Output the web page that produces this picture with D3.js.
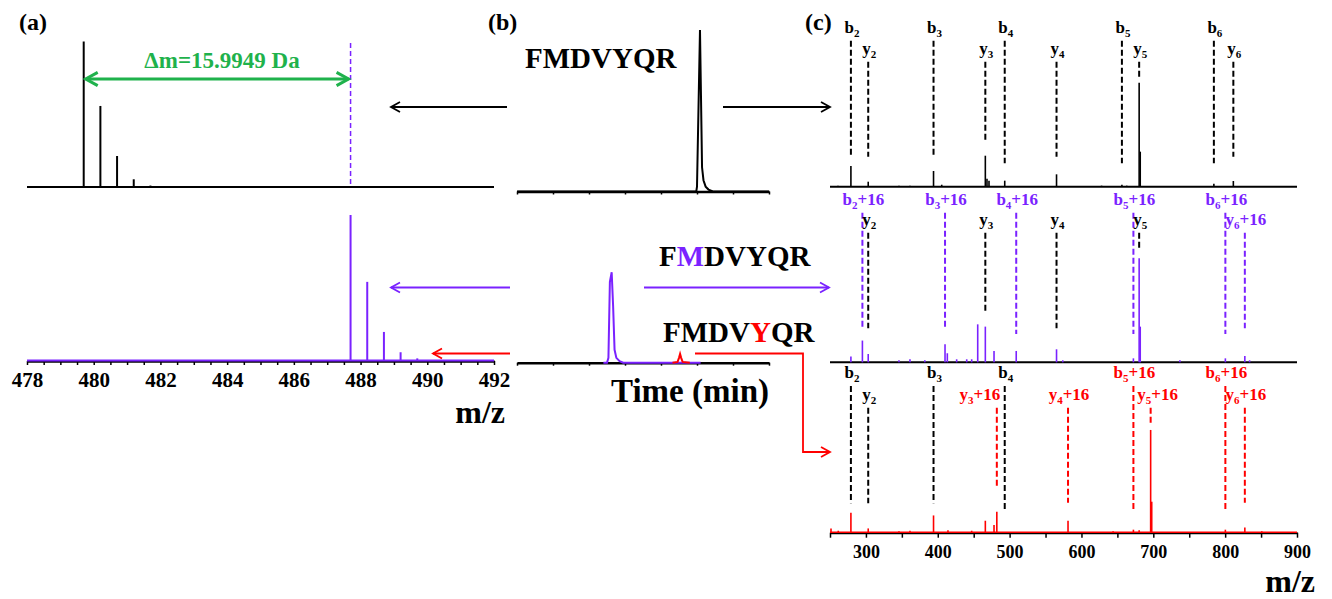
<!DOCTYPE html>
<html lang="en">
<head>
<meta charset="UTF-8">
<title>FMDVYQR oxidation</title>
<script src="https://d3js.org/d3.v7.min.js"></script>
<style>
  html, body { margin: 0; padding: 0; background: #fff; overflow: hidden; }
  svg { display: block; font-family: "Liberation Serif", "Times New Roman", serif; font-weight: bold; }
</style>
</head>
<body>
<svg id="fig" width="1332" height="599"></svg>
<script>
// ---- data ----
// (a) precursor isotope clusters (z = 2)
const precursorMz = [479.70, 480.20, 480.70, 481.20, 481.70];
const precursorInt = [100, 55.7, 21.3, 5.3, 1.0];
const oxidizedMz = [487.70, 488.20, 488.70, 489.20, 489.70];
const oxidizedInt = [100, 54.2, 19.9, 6.0, 1.8];
const precursorTicks = d3.range(478, 492.001, 0.5);

// (b) extracted ion chromatograms
const ticUnmodT = [0, 4.98, 5.0, 5.04, 5.083, 5.11, 5.14, 5.18, 5.24, 5.32, 5.44, 7];
const ticUnmodI = [0, 0, 3, 50, 100, 60, 15, 7, 3, 1.2, 0, 0];
const ticMetT = [2.4, 2.5, 2.54, 2.58, 2.63, 2.67, 2.71, 2.76, 2.85, 2.95, 5.1];
const ticMetI = [0, 0, 3, 50, 56, 35, 8, 3, 1, 0, 0];
const ticTyrT = [4.32, 4.46, 4.5, 4.53, 4.56, 4.6, 4.8];
const ticTyrI = [0, 0.5, 3, 5.4, 3, 0.5, 0];
const timeTicks = d3.range(0, 8);

// (c) MS/MS spectra
const msTopMz = [261.1, 279.1, 303.2, 346.0, 361.3, 394.1, 405.5, 466.2, 468.5, 471.3, 493.2, 565.3, 628.0, 656.3, 663.0, 680.3, 681.8, 784.3, 811.4];
const msTopInt = [1.0, 19.9, 4.8, 1.0, 1.0, 15.1, 1.9, 29.8, 7.7, 5.8, 5.8, 11.9, 1.0, 1.9, 1.0, 100, 33.7, 2.9, 5.5];
const msMidMz = [279.1, 295.1, 303.2, 346.0, 361.3, 382.0, 410.1, 413.3, 426.3, 440.3, 447.2, 455.6, 466.2, 478.3, 509.2, 565.3, 574.0, 672.3, 680.3, 681.8, 737.0, 800.3, 827.4, 834.0];
const msMidInt = [5.5, 20.9, 8.0, 1.9, 2.9, 1.9, 17.3, 8.7, 2.9, 2.9, 2.9, 36.5, 34.3, 10.9, 10.9, 12.5, 1.9, 3.8, 100, 34.3, 1.9, 3.8, 6.1, 1.9];
const msBotMz = [251.4, 261.5, 279.1, 303.2, 346.0, 361.3, 394.1, 414.2, 447.2, 466.2, 478.3, 482.2, 581.3, 644.0, 672.3, 680.3, 696.3, 697.8, 800.3, 827.4, 851.0];
const msBotInt = [4.1, 1.9, 19.2, 4.1, 1.4, 1.9, 16.6, 2.4, 1.9, 11.5, 7.4, 20.2, 11.5, 1.4, 2.9, 2.4, 98.8, 29.8, 2.9, 5.1, 1.4];
const msTicks = d3.range(250, 901, 50);

// fragment annotations: ion type, index, +16 flag, m/z, guide end (intensity units)
const ionType = ["b", "y", "b", "y", "b", "y", "b", "y", "b", "y"];
const ionIndex = [2, 2, 3, 3, 4, 4, 5, 5, 6, 6];
const fragTopMz = [279.1, 303.2, 394.1, 466.2, 493.2, 565.3, 656.3, 680.3, 784.3, 811.4];
const fragTopOx = [0, 0, 0, 0, 0, 0, 0, 0, 0, 0];
const fragTopEnd = [28.8, 28.8, 28.8, 44.9, 22.5, 28.8, 22.5, 105.8, 22.5, 28.8];
const fragMidMz = [295.1, 303.2, 410.1, 466.2, 509.2, 565.3, 672.3, 680.3, 800.3, 827.4];
const fragMidOx = [1, 0, 1, 0, 1, 0, 1, 0, 1, 1];
const fragMidEnd = [32.7, 32.7, 32.7, 48.7, 27.2, 32.7, 27.2, 109.6, 27.2, 32.7];
const fragBotMz = [279.1, 303.2, 394.1, 482.2, 493.2, 581.3, 672.3, 696.3, 800.3, 827.4];
const fragBotOx = [0, 0, 0, 1, 0, 1, 1, 1, 1, 1];
const fragBotEnd = [28.3, 28.3, 28.3, 44.2, 22.8, 28.8, 22.8, 105.2, 22.8, 28.8];

// ---- styles ----
const BLACK = "#000", PURPLE = "#7a22ff", RED = "#ff0000", GREEN = "#1fb24c";
const SERIF = "'Liberation Serif', 'Times New Roman', serif";

const svg = d3.select("#fig");

// line (or polyline) with an open chevron head at the end, optionally at both ends
function arrow(g, pts, color, width, head, both) {
    g.append("path")
        .attr("d", d3.line()(pts))
        .attr("fill", "none").attr("stroke", color).attr("stroke-width", width);
    const tip = (p, q) => {
        const a = Math.atan2(p[1] - q[1], p[0] - q[0]);
        const w = head * 0.55;
        const bx = p[0] - head * Math.cos(a), by = p[1] - head * Math.sin(a);
        const side = s => [bx - s * w * Math.sin(a), by + s * w * Math.cos(a)];
        g.append("path")
            .attr("d", d3.line()([side(-1), p, side(1)]))
            .attr("fill", "none").attr("stroke", color).attr("stroke-width", width);
    };
    tip(pts[pts.length - 1], pts[pts.length - 2]);
    if (both) tip(pts[0], pts[1]);
}

function sticks(g, mz, inten, x, y, color, width) {
    g.append("g").selectAll("line")
        .data(d3.zip(mz, inten))
        .join("line")
        .attr("x1", d => x(d[0])).attr("x2", d => x(d[0]))
        .attr("y1", y(0)).attr("y2", d => y(d[1]))
        .attr("stroke", color).attr("stroke-width", width);
}

// ---- panel (a) ----
const xA = d3.scaleLinear().domain([478, 492]).range([27, 494]);
const yA1 = d3.scaleLinear().domain([0, 100]).range([187, 41.5]);
const yA2 = d3.scaleLinear().domain([0, 100]).range([361, 215]);
const gA = svg.append("g");

gA.append("line")
    .attr("x1", xA(478)).attr("x2", xA(492)).attr("y1", yA1(0)).attr("y2", yA1(0))
    .attr("stroke", BLACK).attr("stroke-width", 2);
sticks(gA, precursorMz, precursorInt, xA, yA1, BLACK, 2);

gA.append("line")
    .attr("x1", xA(oxidizedMz[0])).attr("x2", xA(oxidizedMz[0]))
    .attr("y1", yA1(99)).attr("y2", yA1(0))
    .attr("stroke", PURPLE).attr("stroke-width", 1.5).attr("stroke-dasharray", "5,3");

const axA = gA.append("g")
    .attr("transform", `translate(0,${yA2(0)})`)
    .call(d3.axisBottom(xA).tickValues(precursorTicks).tickSize(4).tickSizeOuter(0)
        .tickFormat(d => (Number.isInteger(d) && d % 2 === 0) ? d : ""));
axA.attr("font-family", SERIF).attr("font-size", 21).attr("font-weight", "bold");
axA.select(".domain").attr("stroke-width", 2.5);
axA.selectAll(".tick line").attr("stroke-width", 1.5);
axA.selectAll(".tick text").attr("y", 26).attr("dy", 0).attr("fill", BLACK);

gA.append("line")
    .attr("x1", xA(478)).attr("x2", xA(492)).attr("y1", yA2(0) - 0.5).attr("y2", yA2(0) - 0.5)
    .attr("stroke", PURPLE).attr("stroke-width", 1.8);
sticks(gA, oxidizedMz, oxidizedInt, xA, yA2, PURPLE, 2);

arrow(gA, [[xA(precursorMz[0]) + 2, 79], [xA(oxidizedMz[0]) - 2, 79]], GREEN, 3, 12, true);
gA.append("text").attr("x", 222).attr("y", 68).attr("text-anchor", "middle")
    .attr("font-size", 23).attr("fill", GREEN).text("Δm=15.9949 Da");

arrow(gA, [[507, 107], [391, 107]], BLACK, 1.8, 9);
arrow(gA, [[510, 287.5], [391, 287.5]], PURPLE, 1.8, 9);
arrow(gA, [[510, 353.5], [433, 353.5]], RED, 1.8, 9);

gA.append("text").attr("x", 505).attr("y", 423).attr("text-anchor", "end")
    .attr("font-size", 32).text("m/z");
svg.append("text").attr("x", 19).attr("y", 30).attr("font-size", 24).text("(a)");

// ---- panel (b) ----
const xB = d3.scaleLinear().domain([0, 7]).range([517, 769]);
const yB1 = d3.scaleLinear().domain([0, 100]).range([191.5, 30]);
const yB2 = d3.scaleLinear().domain([0, 100]).range([362.7, 201.2]);
const gB = svg.append("g");

[yB1, yB2].forEach(y => {
    const ax = gB.append("g")
        .attr("transform", `translate(0,${y(0)})`)
        .call(d3.axisBottom(xB).tickValues(timeTicks).tickSize(3).tickSizeOuter(0).tickFormat(""));
    ax.select(".domain").attr("stroke-width", 2.5);
    ax.selectAll(".tick line").attr("stroke-width", 1.5);
});

const trace = (t, i, y, color) => gB.append("path")
    .attr("d", d3.line().x(d => xB(d[0])).y(d => y(d[1]))(d3.zip(t, i)))
    .attr("fill", "none").attr("stroke", color).attr("stroke-width", 2);
trace(ticUnmodT, ticUnmodI, yB1, BLACK);
trace(ticMetT, ticMetI, yB2, PURPLE);
trace(ticTyrT, ticTyrI, yB2, RED);

gB.append("text").attr("x", 525).attr("y", 68).attr("font-size", 29).text("FMDVYQR");
const seqMet = gB.append("text").attr("x", 659).attr("y", 266).attr("font-size", 29);
seqMet.append("tspan").text("F");
seqMet.append("tspan").attr("fill", PURPLE).text("M");
seqMet.append("tspan").text("DVYQR");
const seqTyr = gB.append("text").attr("x", 663).attr("y", 342).attr("font-size", 29);
seqTyr.append("tspan").text("FMDV");
seqTyr.append("tspan").attr("fill", RED).text("Y");
seqTyr.append("tspan").text("QR");

arrow(gB, [[723, 107], [830, 107]], BLACK, 1.8, 9);
arrow(gB, [[644, 287.5], [829, 287.5]], PURPLE, 1.8, 9);
arrow(gB, [[695, 353.5], [803, 353.5], [803, 452], [830, 452]], RED, 1.8, 9);

gB.append("text").attr("x", 690).attr("y", 402).attr("text-anchor", "middle")
    .attr("font-size", 33).text("Time (min)");
svg.append("text").attr("x", 488).attr("y", 30).attr("font-size", 24).text("(b)");

// ---- panel (c) ----
const xC = d3.scaleLinear().domain([250, 900]).range([830, 1297]);
const specLayout = [
    { base: 186.7, bRise: 146, yRise: 125 },
    { base: 362.3, bRise: 149.6, yRise: 129.6 },
    { base: 532.7, bRise: 146.7, yRise: 125 }
];
const labelNudge = { "2-3": -18, "2-7": 6 };
const gC = svg.append("g");

function spectrum(k, mz, inten, color, fMz, fOx, fEnd, oxColor) {
    const L = specLayout[k];
    const y = d3.scaleLinear().domain([0, 100]).range([L.base, L.base - 104]);
    if (k < 2) {
        gC.append("line").attr("x1", xC(250)).attr("x2", xC(900))
            .attr("y1", L.base).attr("y2", L.base)
            .attr("stroke", BLACK).attr("stroke-width", 2);
    } else {
        const ax = gC.append("g")
            .attr("transform", `translate(0,${L.base})`)
            .call(d3.axisBottom(xC).tickValues(msTicks).tickSize(5).tickSizeOuter(0)
                .tickFormat(d => (d % 100 === 0 && d > 250) ? d : ""));
        ax.attr("font-family", SERIF).attr("font-size", 18).attr("font-weight", "bold");
        ax.select(".domain").attr("stroke-width", 2);
        ax.selectAll(".tick line").attr("stroke-width", 1.5);
        ax.selectAll(".tick text").attr("y", 25.5).attr("dy", 0).attr("fill", BLACK);
        gC.append("line").attr("x1", xC(250)).attr("x2", xC(900))
            .attr("y1", L.base - 0.5).attr("y2", L.base - 0.5)
            .attr("stroke", color).attr("stroke-width", 1.5);
    }
    sticks(gC, mz, inten, xC, y, color, 1.6);

    fMz.forEach((m, i) => {
        const x = xC(m);
        const top = L.base - (ionType[i] === "b" ? L.bRise : L.yRise);
        const c = fOx[i] ? oxColor : BLACK;
        gC.append("line")
            .attr("x1", x).attr("x2", x).attr("y1", top).attr("y2", y(fEnd[i]))
            .attr("stroke", c).attr("stroke-width", 2).attr("stroke-dasharray", "6,3");
        const t = gC.append("text")
            .attr("x", x + 1 + (labelNudge[k + "-" + i] || 0)).attr("y", top - 8)
            .attr("text-anchor", "middle").attr("font-size", 17).attr("fill", c);
        t.append("tspan").text(ionType[i]);
        t.append("tspan").attr("font-size", 11).attr("dy", 4).text(ionIndex[i]);
        if (fOx[i]) t.append("tspan").attr("dy", -4).text("+16");
    });
}

spectrum(0, msTopMz, msTopInt, BLACK, fragTopMz, fragTopOx, fragTopEnd, BLACK);
spectrum(1, msMidMz, msMidInt, PURPLE, fragMidMz, fragMidOx, fragMidEnd, PURPLE);
spectrum(2, msBotMz, msBotInt, RED, fragBotMz, fragBotOx, fragBotEnd, RED);

gC.append("text").attr("x", 1315).attr("y", 592).attr("text-anchor", "end")
    .attr("font-size", 32).text("m/z");
svg.append("text").attr("x", 805).attr("y", 30).attr("font-size", 24).text("(c)");
</script>
</body>
</html>
